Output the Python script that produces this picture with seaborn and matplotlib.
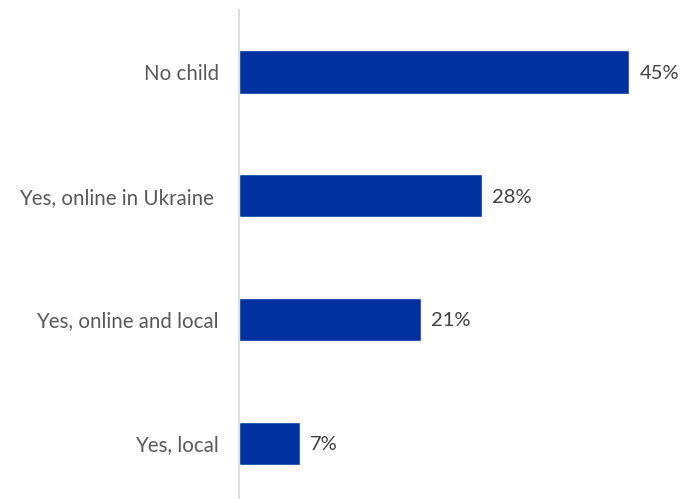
import matplotlib
matplotlib.use("Agg")
import matplotlib.pyplot as plt
import seaborn as sns
import pandas as pd

categories = ["No child", "Yes, online in Ukraine ", "Yes, online and local", "Yes, local"]
values = [45, 28, 21, 7]
value_labels = ["45%", "28%", "21%", "7%"]

df = pd.DataFrame({"category": categories, "value": values})

sns.set_theme(style="white")
plt.rcParams["font.family"] = ["Lato", "DejaVu Sans"]

fig = plt.figure(figsize=(6.94, 4.99), dpi=100)
ax = fig.add_axes([239 / 694, 0.0, 1 - 239 / 694, 489 / 499])

sns.barplot(data=df, x="value", y="category", orient="h", color="#0033A0",
            saturation=1, width=0.35, ax=ax)

ax.set_xlim(0, 52.5)
ax.set_ylim(3.45, -0.5)
ax.set_xlabel("")
ax.set_ylabel("")
ax.set_xticks([])
for side in ["top", "right", "bottom"]:
    ax.spines[side].set_visible(False)
ax.spines["left"].set_color("#d9d9d9")
ax.spines["left"].set_linewidth(1.2)
ax.tick_params(axis="y", length=0, pad=14.4, labelsize=14.8, labelcolor="#595959")
for t in ax.get_yticklabels():
    t.set_va("center_baseline")

for i, (v, lab) in enumerate(zip(values, value_labels)):
    ax.text(v + 1.2, i, lab, va="center_baseline", ha="left", fontsize=14.5, color="#404040")

fig.savefig("out.png", dpi=100)
